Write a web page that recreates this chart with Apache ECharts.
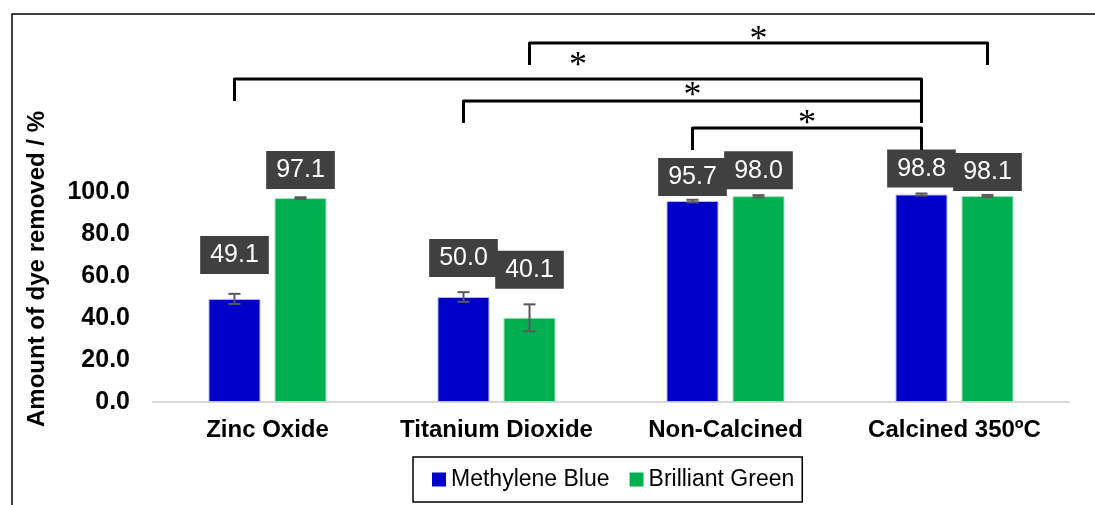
<!DOCTYPE html>
<html>
<head>
<meta charset="utf-8">
<title>Dye removal</title>
<script src="https://cdn.jsdelivr.net/npm/echarts@6/dist/echarts.min.js"></script>
<style>
  html, body { margin: 0; padding: 0; background: #fff; }
  #chart { width: 1095px; height: 505px; }
</style>
</head>
<body>
<div id="chart"></div>
<script>
// Categories and measured dye removal (%)
const categories = ['Zinc Oxide', 'Titanium Dioxide', 'Non-Calcined', 'Calcined 350ºC'];
const methyleneBlue = [49.1, 50.0, 95.7, 98.8];
const brilliantGreen = [97.1, 40.1, 98.0, 98.1];
// Standard deviations for error bars
const methyleneBlueError = [2.4, 2.3, 0.6, 0.5];
const brilliantGreenError = [0.4, 6.4, 0.5, 0.5];
// Y axis ticks
const yMin = 0, yMax = 100, yStep = 20;
// Significant comparisons: [category index, series index] (0 = Methylene Blue, 1 = Brilliant Green)
const comparisons = [
  { from: [1, 1], to: [3, 1], mark: '*' },
  { from: [0, 0], to: [3, 0], mark: '*' },
  { from: [1, 0], to: [3, 0], mark: '*' },
  { from: [2, 0], to: [3, 0], mark: '*' }
];

// ---- layout & style ----
const FONT = '"Liberation Sans", Arial, Helvetica, sans-serif';
const BLUE = '#0000C8';
const GREEN = '#00B050';
const BAR_WIDTH = 0.227;   // fraction of band
const BAR_GAP = 0.27;      // fraction of bar width
const MARK_SIZE = 36;
// label distance above each bar (px)
const blueLabelDist = [25, 20, 5, 7];
const greenLabelDist = [9, 29, 7, 5];
// bracket heights in axis units: horizontal bar, left leg end, right leg end, mark centre
const bracketLevels = [
  { top: 171, left: 160.5, right: 160.5, mark: 175.2 },
  { top: 153.8, left: 143.3, right: 132.9, mark: 162.5 },
  { top: 143.3, left: 132.9, right: 132.9, mark: 148.2 },
  { top: 130.5, left: 120, right: 120, mark: 135.2 }
];

function barOffset(seriesIdx, band) {
  const w = band * BAR_WIDTH;
  const g = w * BAR_GAP;
  return (seriesIdx === 0 ? -1 : 1) * (w + g) / 2;
}

function errorRenderer(seriesIdx) {
  return function (params, api) {
    const cat = api.value(0);
    const lo = api.coord([cat, api.value(1)]);
    const hi = api.coord([cat, api.value(2)]);
    const band = api.size([1, 0])[0];
    const x = lo[0] + barOffset(seriesIdx, band);
    const cap = 6;
    const style = { stroke: '#595959', lineWidth: 2, fill: null };
    return {
      type: 'group',
      children: [
        { type: 'line', shape: { x1: x, y1: lo[1], x2: x, y2: hi[1] }, style: style },
        { type: 'line', shape: { x1: x - cap, y1: lo[1], x2: x + cap, y2: lo[1] }, style: style },
        { type: 'line', shape: { x1: x - cap, y1: hi[1], x2: x + cap, y2: hi[1] }, style: style }
      ]
    };
  };
}

function bracketRenderer(params, api) {
  const i = api.value(0);
  const c = comparisons[i];
  const lv = bracketLevels[i];
  const band = api.size([1, 0])[0];
  const x1 = api.coord([c.from[0], 0])[0] + barOffset(c.from[1], band);
  const x2 = api.coord([c.to[0], 0])[0] + barOffset(c.to[1], band);
  const yTop = api.coord([0, lv.top])[1];
  const yL = api.coord([0, lv.left])[1];
  const yR = api.coord([0, lv.right])[1];
  const yM = api.coord([0, lv.mark])[1];
  return {
    type: 'group',
    children: [
      {
        type: 'polyline',
        shape: { points: [[x1, yL], [x1, yTop], [x2, yTop], [x2, yR]] },
        style: { stroke: '#000', lineWidth: 3, fill: null, lineJoin: 'round' }
      },
      {
        type: 'text',
        x: (x1 + x2) / 2,
        // the asterisk glyph sits high in its em box; shift so its centre lands on yM
        y: yM + MARK_SIZE * 0.17,
        style: {
          text: c.mark, fill: '#000', fontSize: MARK_SIZE,
          fontFamily: '"Liberation Serif", "Times New Roman", serif',
          align: 'center', verticalAlign: 'middle'
        }
      }
    ]
  };
}

const labelStyle = {
  show: true,
  position: 'top',
  formatter: p => Number(p.value).toFixed(1),
  color: '#fff',
  backgroundColor: '#404040',
  fontFamily: FONT,
  fontSize: 25,
  lineHeight: 25,
  padding: [7, 10, 6, 10]
};

function barData(values, dists) {
  return values.map((v, i) => ({ value: v, label: { distance: dists[i] } }));
}

const chart = echarts.init(document.getElementById('chart'), null, { renderer: 'canvas' });
chart.setOption({
  backgroundColor: '#fff',
  animation: false,
  grid: {
    left: 153, right: 26, top: 192, bottom: 103,
    containLabel: false, outerBoundsMode: 'none'
  },
  legend: {
    left: 413, top: 457,
    icon: 'rect', itemWidth: 14, itemHeight: 14, itemGap: 20,
    itemStyle: { borderWidth: 0 },
    borderColor: '#000', borderWidth: 1.5,
    padding: [11, 8, 11, 19],
    textStyle: { fontFamily: FONT, fontSize: 23, color: '#000' },
    data: ['Methylene Blue', 'Brilliant Green']
  },
  xAxis: {
    type: 'category',
    data: categories,
    axisTick: { show: false },
    axisLine: { lineStyle: { color: '#d9d9d9', width: 2 } },
    axisLabel: {
      interval: 0, color: '#000', fontFamily: FONT, fontSize: 24,
      fontWeight: 'bold', margin: 16
    }
  },
  yAxis: {
    type: 'value',
    min: yMin, max: yMax, interval: yStep,
    splitLine: { show: false },
    axisLine: { show: false },
    axisTick: { show: false },
    axisLabel: {
      color: '#000', fontFamily: FONT, fontSize: 25, fontWeight: 'bold', margin: 23,
      formatter: v => v.toFixed(1)
    }
  },
  graphic: [
    {
      type: 'rect',
      shape: { x: 12, y: 14, width: 1200, height: 600 },
      style: { fill: null, stroke: '#000', lineWidth: 1.5 },
      silent: true
    },
    {
      type: 'text',
      x: 37, y: 269,
      rotation: Math.PI / 2,
      style: {
        text: 'Amount of dye removed / %',
        fontFamily: FONT, fontSize: 24, fontWeight: 'bold', fill: '#000',
        align: 'center', verticalAlign: 'middle'
      }
    }
  ],
  series: [
    {
      name: 'Methylene Blue',
      type: 'bar',
      barWidth: (BAR_WIDTH * 100) + '%',
      barGap: (BAR_GAP * 100) + '%',
      itemStyle: { color: BLUE, borderColor: '#b8b8f0', borderWidth: 1 },
      label: labelStyle,
      data: barData(methyleneBlue, blueLabelDist)
    },
    {
      name: 'Brilliant Green',
      type: 'bar',
      barWidth: (BAR_WIDTH * 100) + '%',
      barGap: (BAR_GAP * 100) + '%',
      itemStyle: { color: GREEN, borderColor: '#a0e0bc', borderWidth: 1 },
      label: labelStyle,
      data: barData(brilliantGreen, greenLabelDist)
    },
    {
      name: 'MB error',
      type: 'custom',
      renderItem: errorRenderer(0),
      z: 5, silent: true,
      data: methyleneBlue.map((v, i) => [i, v - methyleneBlueError[i], v + methyleneBlueError[i]])
    },
    {
      name: 'BG error',
      type: 'custom',
      renderItem: errorRenderer(1),
      z: 5, silent: true,
      data: brilliantGreen.map((v, i) => [i, v - brilliantGreenError[i], v + brilliantGreenError[i]])
    },
    {
      name: 'Significance',
      type: 'custom',
      renderItem: bracketRenderer,
      clip: false, z: 6, silent: true,
      encode: { x: 0, y: 1 },
      data: comparisons.map((c, i) => [i, 0])
    }
  ]
});
</script>
</body>
</html>
